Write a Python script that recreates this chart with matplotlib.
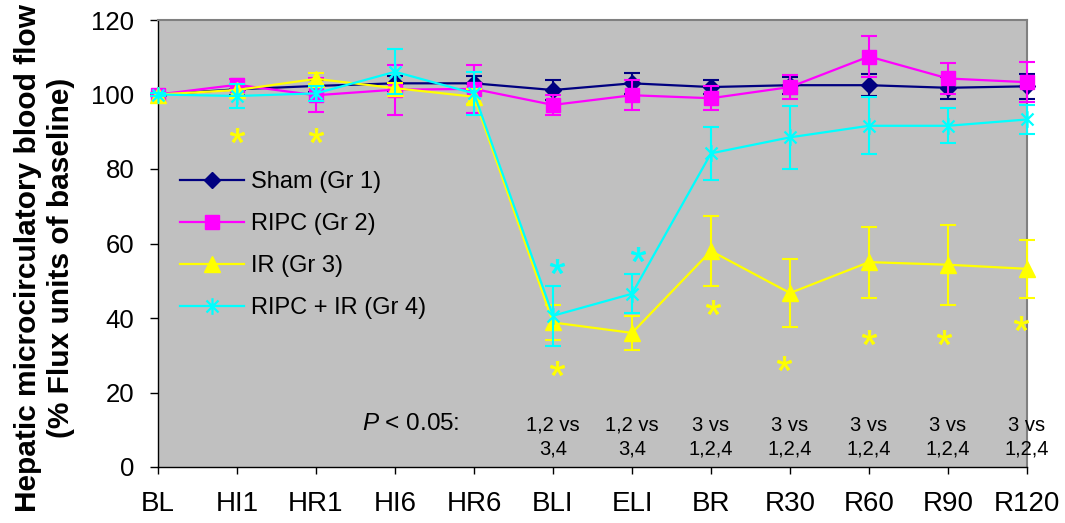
import matplotlib
matplotlib.use('Agg')
import numpy as np
import matplotlib.pyplot as plt
from matplotlib.path import Path

plt.rcParams['font.family'] = 'Liberation Sans'
plt.rcParams['mathtext.fontset'] = 'custom'
plt.rcParams['mathtext.rm'] = 'Liberation Sans'
plt.rcParams['mathtext.it'] = 'Liberation Sans:italic'

# time points along the x axis
timepoints = ['BL', 'HI1', 'HR1', 'HI6', 'HR6', 'BLI', 'ELI', 'BR', 'R30', 'R60', 'R90', 'R120']

# mean flux (% of baseline) and error per group
sham_mean = [100, 101.4, 102.3, 103.0, 103.0, 101.2, 103.0, 102.0, 102.5, 102.5, 101.8, 102.2]
sham_err = [0.5, 1.5, 1.5, 2.0, 2.0, 2.8, 2.8, 1.8, 2.3, 3.0, 3.0, 3.3]
ripc_mean = [100, 102.6, 99.8, 101.3, 101.5, 97.2, 99.8, 99.0, 102.0, 110.2, 104.3, 103.3]
ripc_err = [0.5, 1.5, 4.5, 6.7, 6.5, 2.8, 4.0, 3.2, 3.2, 5.5, 4.2, 5.4]
ir_mean = [100, 101.2, 104.2, 101.7, 99.4, 38.8, 36.0, 58.0, 46.7, 55.0, 54.3, 53.2]
ir_err = [0.5, 1.5, 1.5, 1.5, 2.0, 4.6, 4.5, 9.4, 9.2, 9.5, 10.7, 7.7]
ripc_ir_mean = [100, 99.6, 100.3, 106.1, 100.3, 40.6, 46.5, 84.2, 88.5, 91.6, 91.6, 93.3]
ripc_ir_err = [0.5, 3.3, 2.0, 6.0, 5.8, 8.0, 5.2, 7.2, 8.5, 7.7, 4.7, 4.0]

# significance asterisks (x as category index, y in % units)
ast_yellow_x = [1, 2, 5.05, 7.03, 7.93, 9.0, 9.95, 10.93]
ast_yellow_y = [89.1, 89.1, 26.6, 43.0, 27.8, 34.8, 34.8, 38.6]
ast_cyan_x = [5.05, 6.08]
ast_cyan_y = [54.0, 57.2]

# P < 0.05 comparisons under BLI..R120
comp_top = ['1,2 vs', '1,2 vs', '3 vs', '3 vs', '3 vs', '3 vs', '3 vs']
comp_bottom = ['3,4', '3,4', '1,2,4', '1,2,4', '1,2,4', '1,2,4', '1,2,4']

# Excel-like star marker: vertical bar plus an X
star = Path([(0, -0.5), (0, 0.5), (-0.36, -0.36), (0.36, 0.36), (-0.36, 0.36), (0.36, -0.36)],
            [Path.MOVETO, Path.LINETO] * 3)

fig = plt.figure(figsize=(10.65, 5.23), dpi=100)
ax = fig.add_axes([158 / 1065, 56 / 523, 869 / 1065, 447 / 523])
ax.set_facecolor('#C0C0C0')

x = np.arange(len(timepoints))

series = [
    ('Sham (Gr 1)', sham_mean, sham_err, '#000080', 'D', 8.5),
    ('RIPC (Gr 2)', ripc_mean, ripc_err, '#FF00FF', 's', 9.5),
    ('IR (Gr 3)', ir_mean, ir_err, '#FFFF00', '^', 11),
    ('RIPC + IR (Gr 4)', ripc_ir_mean, ripc_ir_err, '#00FFFF', star, 12),
]

for i, (label, mean, err, color, marker, ms) in enumerate(series):
    ax.errorbar(x, mean, yerr=err, fmt='none', ecolor=color, elinewidth=1.5,
                capsize=6, capthick=1.5, zorder=2 + 2 * i, clip_on=False)
    face = 'none' if marker is star else color
    ax.plot(x, mean, color=color, lw=1.6, marker=marker, ms=ms, mfc=face, mec=color,
            mew=1.6 if marker is star else 1, label=label, zorder=3 + 2 * i, clip_on=False)

ax.plot(ast_yellow_x, ast_yellow_y, ls='none', marker='$*$', ms=10.5, color='#FFFF00',
        mew=0.5, zorder=10, clip_on=False)
ax.plot(ast_cyan_x, ast_cyan_y, ls='none', marker='$*$', ms=10.5, color='#00FFFF',
        mew=0.5, zorder=10, clip_on=False)

ax.text(3.2, 11.5, '$P$ < 0.05:', ha='center', va='center', fontsize=17.5)
for xi, top, bottom in zip(x[5:], comp_top, comp_bottom):
    ax.text(xi, 8.0, top + '\n' + bottom, ha='center', va='center', fontsize=14.5, linespacing=1.3)

ax.set_xlim(0, 11)
ax.set_ylim(0, 120)
ax.set_xticks(x)
ax.set_xticklabels(timepoints, fontsize=20)
ax.set_yticks(np.arange(0, 121, 20))
ax.tick_params(axis='y', labelsize=18.5, direction='out', length=6, width=1, pad=11)
ax.tick_params(axis='x', direction='out', length=5, width=1, pad=12)

for side in ['left', 'bottom']:
    ax.spines[side].set_color('black')
    ax.spines[side].set_linewidth(1)
for side in ['top', 'right']:
    ax.spines[side].set_color('#808080')
    ax.spines[side].set_linewidth(1.5)

ax.legend(loc='upper left', bbox_to_anchor=(180 / 1065, 1 - 171 / 523), bbox_transform=fig.transFigure,
          frameon=False, fontsize=17, handlelength=2.7, handletextpad=0.3, labelspacing=0.85,
          borderpad=0, borderaxespad=0)

fig.text(44.5 / 1065, 1 - 258 / 523, 'Hepatic microcirculatory blood flow\n(% Flux units of baseline)',
         rotation=90, ha='center', va='center', fontsize=21.5, fontweight='bold', multialignment='center')

fig.savefig('out.png', dpi=100)
